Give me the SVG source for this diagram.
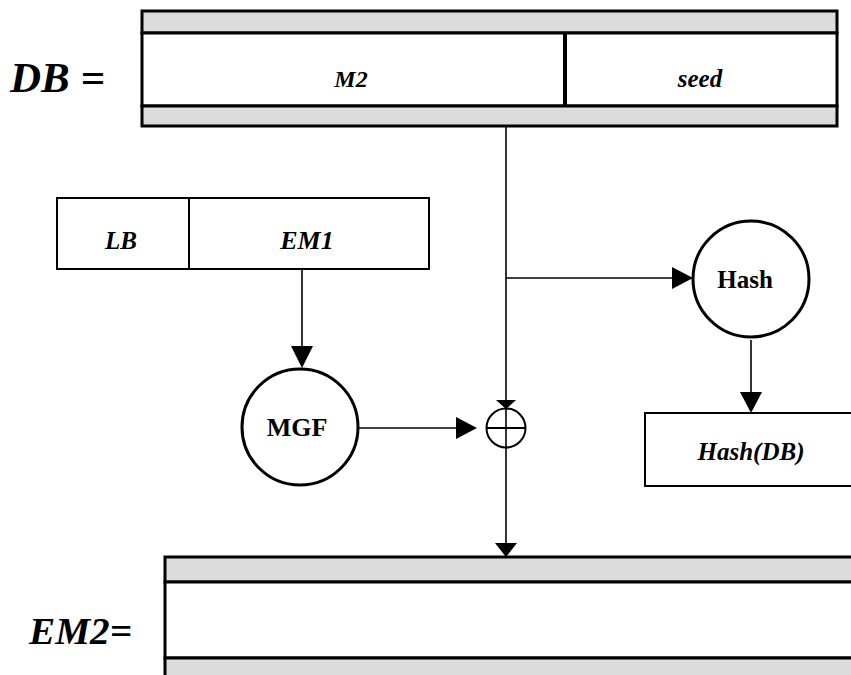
<svg xmlns="http://www.w3.org/2000/svg" width="851" height="675" viewBox="0 0 851 675">
<style>
.t{font-family:"Liberation Serif","Times New Roman",serif;font-weight:bold;fill:#000}
.i{font-style:italic}
.band{fill:#dcdcdc;stroke:#000;stroke-width:3}
.box{fill:#fff;stroke:#000;stroke-width:3}
.thin{fill:#fff;stroke:#000;stroke-width:2}
.ln{stroke:#000;stroke-width:1.6;fill:none}
.circ{fill:#fff;stroke:#000;stroke-width:3}
.ah{fill:#000}
</style>
<rect width="851" height="675" fill="#fff"/>
<g id="db">
  <text class="t i" x="10" y="92" font-size="42" textLength="95" lengthAdjust="spacingAndGlyphs">DB =</text>
  <rect class="band" x="142" y="11" width="695" height="22"/>
  <rect class="box" x="142" y="33" width="695" height="73"/>
  <rect class="band" x="142" y="106" width="695" height="20"/>
  <line x1="565" y1="33" x2="565" y2="106" stroke="#000" stroke-width="4"/>
  <text class="t i" x="351" y="87" font-size="24" text-anchor="middle">M2</text>
  <text class="t i" x="700" y="87" font-size="25" text-anchor="middle">seed</text>
</g>
<g id="lbem1">
  <rect class="thin" x="57" y="198" width="372" height="71"/>
  <line x1="189" y1="198" x2="189" y2="269" stroke="#000" stroke-width="2"/>
  <text class="t i" x="121" y="249" font-size="25" text-anchor="middle">LB</text>
  <text class="t i" x="307" y="249" font-size="26" text-anchor="middle">EM1</text>
</g>
<g id="mgf">
  <circle class="circ" cx="300" cy="427" r="58"/>
  <text class="t" x="297" y="436" font-size="26" text-anchor="middle">MGF</text>
</g>
<g id="hash">
  <circle class="circ" cx="751" cy="279" r="58"/>
  <text class="t" x="745" y="288" font-size="25" text-anchor="middle">Hash</text>
</g>
<g id="hashdb">
  <rect class="thin" x="645" y="413" width="220" height="73"/>
  <text class="t i" x="751" y="460" font-size="25" text-anchor="middle">Hash(DB)</text>
</g>
<g id="xor">
  <circle cx="506" cy="428" r="19.5" fill="#fff" stroke="#000" stroke-width="2"/>
  <line x1="486.5" y1="428" x2="525.5" y2="428" stroke="#000" stroke-width="2"/>
</g>
<g id="em2">
  <text class="t i" x="29" y="644" font-size="37" textLength="103" lengthAdjust="spacingAndGlyphs">EM2=</text>
  <rect class="band" x="165" y="557" width="700" height="25"/>
  <rect class="box" x="165" y="582" width="700" height="76"/>
  <rect class="band" x="165" y="658" width="700" height="30"/>
</g>
<g id="connectors">
  <line class="ln" x1="506" y1="126" x2="506" y2="545"/>
  <polygon class="ah" points="496,400 516,400 506,409"/>
  <polygon class="ah" points="495,543 517,543 506,557"/>
  <line class="ln" x1="506" y1="278" x2="674" y2="278"/>
  <polygon class="ah" points="672,267 672,289 693,278"/>
  <line class="ln" x1="302" y1="269" x2="302" y2="348"/>
  <polygon class="ah" points="291,346 313,346 302,368"/>
  <line class="ln" x1="358" y1="428" x2="458" y2="428"/>
  <polygon class="ah" points="456,417 456,439 477,428"/>
  <line class="ln" x1="751" y1="340" x2="751" y2="394"/>
  <polygon class="ah" points="740,392 762,392 751,413"/>
</g>
</svg>
